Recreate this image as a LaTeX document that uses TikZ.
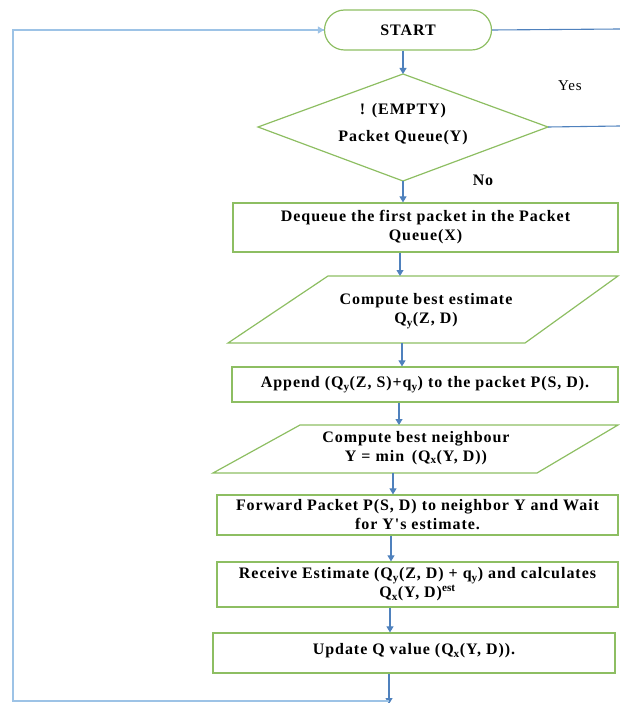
\documentclass[tikz,border=0pt]{standalone}
\usepackage{fontspec}
\setmainfont{Liberation Serif}
\newfontfamily\flowfont[LetterSpace=6]{Liberation Serif}
\usetikzlibrary{arrows.meta}
\definecolor{boxgreen}{RGB}{141,190,98}
\definecolor{flowblue}{RGB}{79,129,189}
\definecolor{loopblue}{RGB}{157,195,230}
\tikzset{
  txt/.style={font=\flowfont\bfseries\fontsize{16}{19}\selectfont},
  stepbox/.style={draw=boxgreen, line width=1.2pt, rectangle, align=center, txt, inner sep=2pt},
  iobox/.style={draw=boxgreen, line width=1.2pt},
  lbl/.style={align=center, txt},
  arr/.style={draw=flowblue, line width=1.1pt, -{Triangle[width=7pt,length=6pt]}},
  loopline/.style={draw=loopblue, line width=1.6pt},
}
\begin{document}
\begin{tikzpicture}[x=1pt,y=-1pt]
\useasboundingbox (0,0) rectangle (620,703);

% terminal
\node[stepbox, rounded corners=20pt, minimum width=167pt, minimum height=40pt]
  (start) at (408,30) {START};

% decision
\coordinate (diaN) at (403,74);
\coordinate (diaE) at (548,127);
\coordinate (diaS) at (403,181);
\coordinate (diaW) at (258,127);
\draw[iobox] (diaN) -- (diaE) -- (diaS) -- (diaW) -- cycle;
\node[lbl] (dia) at (403,124) {! (EMPTY)\\[8pt]Packet Queue(Y)};

% process steps
\node[stepbox, minimum width=385pt, minimum height=49pt] (deq) at (425.5,227.5)
  {Dequeue the first packet in the Packet\\Queue(X)};

\draw[iobox] (328,276) -- (618,276) -- (525,343) -- (228,343) -- cycle;
\node[lbl] (est) at (426,311) {Compute best estimate\\Q$_{\mathbf{y}}$(Z, D)};
\coordinate (estN) at (400,276);
\coordinate (estS) at (402,343);

\node[stepbox, minimum width=386pt, minimum height=35pt] (app) at (425,384.5)
  {Append (Q$_{\mathbf{y}}$(Z, S)+q$_{\mathbf{y}}$) to the packet P(S, D).};

\draw[iobox] (300,425) -- (618,425) -- (537,473) -- (213,473) -- cycle;
\node[lbl] (nbr) at (416,448) {Compute best neighbour\\Y = min\, (Q$_{\mathbf{x}}$(Y, D))};
\coordinate (nbrN) at (399,425);
\coordinate (nbrS) at (393,473);

\node[stepbox, minimum width=401pt, minimum height=40pt] (fwd) at (417.5,515)
  {Forward Packet P(S, D) to neighbor Y and Wait\\for Y's estimate.};

\node[stepbox, minimum width=401pt, minimum height=45pt] (rcv) at (417.5,584.5)
  {Receive Estimate (Q$_{\mathbf{y}}$(Z, D) + q$_{\mathbf{y}}$) and calculates\\Q$_{\mathbf{x}}$(Y, D)$^{\mathbf{est}}$};

\node[stepbox, minimum width=402pt, minimum height=40pt, text depth=8pt] (upd) at (414,653)
  {Update Q value (Q$_{\mathbf{x}}$(Y, D)).};

% branch labels
\node[font=\flowfont\fontsize{15}{17}\selectfont] (yes) at (570,86) {Yes};
\node[txt] (no) at (483,180) {No};

% exits to the right
\coordinate (startR) at (620,29);
\coordinate (diaR) at (620,126);
\draw[draw=flowblue, line width=1.1pt] (start.east) -- (startR);
\draw[draw=flowblue, line width=1.1pt] (diaE) -- (diaR);

% main flow
\draw[arr] (start.south -| diaN) -- (diaN);
\draw[arr] (diaS) -- (diaS |- deq.north);
\draw[arr] (deq.south -| estN) -- (estN);
\draw[arr] (estS) -- (estS |- app.north);
\draw[arr] (app.south -| nbrN) -- (nbrN);
\draw[arr] (nbrS) -- (nbrS |- fwd.north);
\coordinate (fr) at (391,0);
\draw[arr] (fwd.south -| fr) -- (fr |- rcv.north);
\coordinate (ru) at (390,0);
\draw[arr] (rcv.south -| ru) -- (ru |- upd.north);

% return loop
\coordinate (out) at (389,704);
\coordinate (loopB) at (389,701);
\coordinate (loopBL) at (13,701);
\coordinate (loopTL) at (13,30);
\draw[arr] (upd.south -| out) -- (out);
\draw[loopline] (loopB) -- (loopBL) -- (loopTL) -- (start.west);
\draw[arr, draw=loopblue] ([xshift=-12pt]start.west) -- (start.west);
\end{tikzpicture}
\end{document}
